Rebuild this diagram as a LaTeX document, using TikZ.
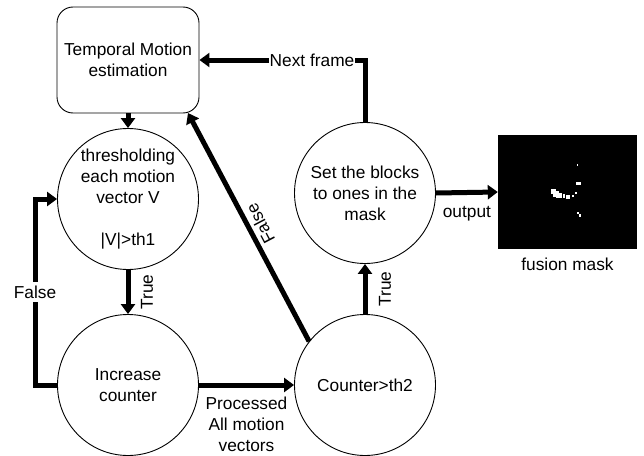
\documentclass[tikz,border=0pt]{standalone}
\usepackage{fontspec}
\setmainfont{Liberation Sans}
\usetikzlibrary{arrows.meta,calc}
\begin{document}
\begin{tikzpicture}[x=1pt,y=-1pt,
  every node/.style={font=\fontsize{17.3pt}{21pt}\selectfont},
  circ/.style={draw, circle, line width=0.9pt, minimum size=141pt, inner sep=0pt, align=center},
  procbox/.style={draw, rounded corners=16pt, line width=0.9pt, minimum width=142pt, minimum height=106pt, align=center},
  arr/.style={line width=5pt, -{Triangle[length=10pt,width=14pt]}},
  lbl/.style={inner sep=1pt, align=center},
  gaplbl/.style={fill=white, inner xsep=1pt, inner ysep=4pt}
]
\useasboundingbox (0,0) rectangle (644,455);

\node[procbox] (box) at (128,60) {Temporal Motion\\estimation};
\node[circ] (c1) at (128,199) {thresholding\\each motion\\vector V\\[21pt]|V|>th1};
\node[circ] (c2) at (128,385) {Increase\\counter};
\node[circ] (c3) at (365,385) {Counter>th2};
\node[circ] (c4) at (365,193) {Set the blocks\\to ones in the\\mask};
\node[fill=black, minimum width=139pt, minimum height=114pt, inner sep=0pt] (mask) at (567.5,192) {};
\node[lbl, anchor=north] (masklbl) at ([yshift=-8pt]mask.south) {fusion mask};

% white spots in the mask
\begin{scope}[fill=white]
  \fill (576.5,163.5) rectangle (578.3,165.5);
  \fill (576,182.3) rectangle (580.7,184.5);
  \fill (551,188.5) rectangle (556,193.5);
  \fill (553,190.5) rectangle (559,196.5);
  \fill (556,192.5) rectangle (561.5,198);
  \fill (562.7,194.3) rectangle (565,197.7);
  \fill (566,195) rectangle (569.5,199);
  \fill (572.3,195) rectangle (574,197);
  \fill (575,191.7) rectangle (576.5,194.3);
  \fill (577.3,211.7) rectangle (579,214);
  \fill (579.3,214.3) rectangle (581,216.7);
\end{scope}

\coordinate (fl) at (35,385);
\coordinate (fu) at (35,199);
\coordinate (boxcorner) at (188,113);

% connectors
\draw[arr] (box.south) -- (c1.north);
\draw[arr] (c1.south) -- node[lbl, xshift=19pt, rotate=90] {True} (c2.north);
\draw[arr] (c2.west) -- (fl) -- node[gaplbl] {False} (fu) -- (c1.west);
\draw[arr] (c2.east) -- node[lbl, below=8pt] {Processed\\All motion\\vectors} (c3.west);
\draw[arr] (c3.north) -- node[lbl, xshift=20pt, rotate=90] {True} (c4.south);
\draw[arr] (c3.142) -- node[lbl, pos=0.49, rotate=117.7, anchor=north, inner sep=3pt] {False} (boxcorner);
\draw[arr] (c4.north) |- node[gaplbl, pos=0.66, inner ysep=2pt] {Next frame} (box.east);
\draw[arr] (c4.east) -- node[lbl, below=10pt] {output} (mask.west);
\end{tikzpicture}
\end{document}
